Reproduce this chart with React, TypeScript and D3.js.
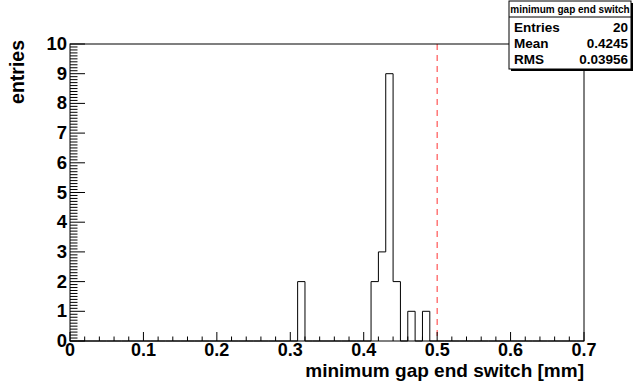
import React from 'react';
import * as d3 from 'd3';

// histogram: 70 bins of 0.01 from 0 to 0.7, only the filled bins listed
const binLows = [0.31, 0.41, 0.42, 0.43, 0.44, 0.46, 0.48];
const binCounts = [2, 2, 3, 9, 2, 1, 1];
const xRange = [0, 0.7];
const nBins = 70;
const yRange = [0, 10];
const xTicks = [0, 0.1, 0.2, 0.3, 0.4, 0.5, 0.6, 0.7];
const yTicks = [0, 1, 2, 3, 4, 5, 6, 7, 8, 9, 10];
const cutValue = 0.5;
const statsTitle = 'minimum gap end switch';
const statsRows = [
  ['Entries', '20'],
  ['Mean', '0.4245'],
  ['RMS', '0.03956'],
];

const W = 637;
const H = 381;
const frame = { left: 70, right: 584, top: 44, bottom: 341 };
const font = '"Liberation Sans", Arial, Helvetica, sans-serif';

const App = () => {
  const x = d3.scaleLinear().domain(xRange).range([frame.left, frame.right]);
  const y = d3.scaleLinear().domain(yRange).range([frame.bottom, frame.top]);

  const binW = (xRange[1] - xRange[0]) / nBins;
  // fill the full bin array from the listed bins
  const counts = d3.range(nBins).map(i => {
    const lo = xRange[0] + i * binW;
    const k = binLows.findIndex(b => Math.abs(b - lo) < binW / 2);
    return k >= 0 ? binCounts[k] : 0;
  });
  const pts = counts.map((c, i) => [xRange[0] + i * binW, c] as [number, number]);
  pts.push([xRange[1], counts[nBins - 1]]);
  const step = d3.line<[number, number]>()
    .x(d => x(d[0]))
    .y(d => y(d[1]))
    .curve(d3.curveStepAfter);
  // close on the baseline at both ends
  const histPath = `M${x(xRange[0])},${y(0)}` + step(pts)!.replace(/^M/, 'L') + `L${x(xRange[1])},${y(0)}`;

  const xMinor = d3.range(0, 0.7001, 0.02);
  const yMinor = d3.range(0, 10.0001, 0.1);

  const sb = { x0: 509, x1: 631, y0: 1, y1: 69, sep: 17 };

  return (
    <svg width={W} height={H} style={{ position: 'absolute', left: 0, top: 0, background: '#fff' }}>
      <rect x={0} y={0} width={W} height={H} fill="#fff" />

      {/* histogram */}
      <path d={histPath} fill="none" stroke="#000" strokeWidth={1} />

      {/* cut line */}
      <line x1={x(cutValue)} x2={x(cutValue)} y1={frame.top} y2={frame.bottom}
        stroke="#ff3333" strokeWidth={1} strokeDasharray="6,5" />

      {/* frame */}
      <rect x={frame.left} y={frame.top} width={frame.right - frame.left} height={frame.bottom - frame.top}
        fill="none" stroke="#000" strokeWidth={1} />

      {/* x ticks */}
      {xMinor.map((v, i) => {
        const major = i % 5 === 0;
        return <line key={'xm' + i} x1={x(v)} x2={x(v)} y1={frame.bottom} y2={frame.bottom - (major ? 9 : 4.5)}
          stroke="#000" strokeWidth={1} />;
      })}
      {xTicks.map(v => (
        <text key={'xt' + v} x={x(v)} y={356} textAnchor="middle" fontFamily={font} fontWeight="bold" fontSize={18}>
          {d3.format('~g')(v)}
        </text>
      ))}

      {/* y ticks */}
      {yMinor.map((v, i) => {
        const major = i % 10 === 0;
        return <line key={'ym' + i} x1={frame.left} x2={frame.left + (major ? 15 : 7.5)} y1={y(v)} y2={y(v)}
          stroke="#000" strokeWidth={1} />;
      })}
      {yTicks.map(v => (
        <text key={'yt' + v} x={frame.left - 3} y={y(v) + 6} textAnchor="end" fontFamily={font} fontWeight="bold" fontSize={18.5}>
          {v}
        </text>
      ))}

      {/* axis titles */}
      <text x={frame.right} y={377} textAnchor="end" fontFamily={font} fontWeight="bold" fontSize={19}>
        minimum gap end switch [mm]
      </text>
      <text transform={`translate(24, ${frame.top - 4}) rotate(-90)`} textAnchor="end" fontFamily={font} fontWeight="bold" fontSize={19.5}>
        entries
      </text>

      {/* stats box */}
      <rect x={sb.x0 + 2} y={sb.y0 + 2} width={sb.x1 - sb.x0} height={sb.y1 - sb.y0} fill="#000" />
      <rect x={sb.x0} y={sb.y0} width={sb.x1 - sb.x0} height={sb.y1 - sb.y0} fill="#fff" stroke="#000" strokeWidth={1} />
      <line x1={sb.x0} x2={sb.x1} y1={sb.sep} y2={sb.sep} stroke="#000" strokeWidth={1} />
      <text x={(sb.x0 + sb.x1) / 2} y={13} textAnchor="middle" fontFamily={font} fontWeight="bold" fontSize={10}>
        {statsTitle}
      </text>
      {statsRows.map((r, i) => (
        <g key={r[0]}>
          <text x={sb.x0 + 5} y={32 + i * 16} fontFamily={font} fontWeight="bold" fontSize={13.5}>{r[0]}</text>
          <text x={sb.x1 - 3} y={32 + i * 16} textAnchor="end" fontFamily={font} fontWeight="bold" fontSize={13.5}>{r[1]}</text>
        </g>
      ))}
    </svg>
  );
};

export default App;
